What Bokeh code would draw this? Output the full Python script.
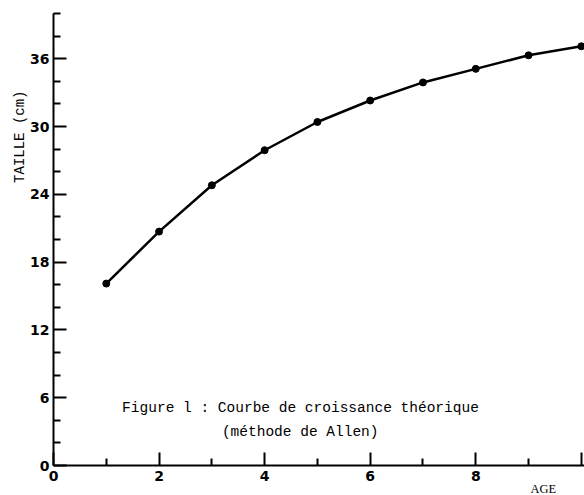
from bokeh.plotting import figure
from bokeh.models import FixedTicker, Label, Range1d, Title
from bokeh.embed import file_html
from bokeh.resources import INLINE

age = [1, 2, 3, 4, 5, 6, 7, 8, 9, 10]
taille = [16.1, 20.7, 24.8, 27.9, 30.4, 32.3, 33.9, 35.1, 36.3, 37.1]

x_ticks = [0, 2, 4, 6, 8, 10]
x_minor = [1, 3, 5, 7, 9]
y_ticks = [0, 6, 12, 18, 24, 30, 36]
y_minor = [2, 4, 8, 10, 14, 16, 20, 22, 26, 28, 32, 34, 38, 40]

p = figure(width=584, height=495, output_backend="svg", toolbar_location=None,
           x_range=Range1d(0, 10.06), y_range=Range1d(0, 40),
           min_border_left=53, min_border_right=0, min_border_top=13, min_border_bottom=30)
p.outline_line_color = None
p.xgrid.visible = False
p.ygrid.visible = False
p.background_fill_color = "white"
p.border_fill_color = "white"

p.line(age, taille, line_color="black", line_width=2.5)
p.scatter(age, taille, size=7, color="black")

for ax in (p.xaxis[0], p.yaxis[0]):
    ax.axis_line_width = 2
    ax.axis_line_color = "black"
    ax.major_tick_line_width = 2
    ax.minor_tick_line_width = 2
    ax.major_tick_line_color = "black"
    ax.minor_tick_line_color = "black"
    ax.major_tick_in = 13
    ax.major_tick_out = 0
    ax.minor_tick_in = 7
    ax.minor_tick_out = 0
    ax.major_label_text_font = "DejaVu Sans"
    ax.major_label_text_font_style = "bold"
    ax.major_label_text_font_size = "14px"
    ax.major_label_text_color = "black"

p.xaxis[0].ticker = FixedTicker(ticks=x_ticks, minor_ticks=x_minor)
p.xaxis[0].major_label_overrides = {10: ""}
p.xaxis[0].major_label_standoff = 5
p.yaxis[0].ticker = FixedTicker(ticks=y_ticks, minor_ticks=y_minor)
p.yaxis[0].major_label_standoff = 4

p.add_layout(Title(text="TAILLE (cm)", align="right", offset=77, standoff=0,
                   text_font="Liberation Mono", text_font_size="14px",
                   text_font_style="normal", text_color="#000000"), "left")
p.add_layout(Title(text="AGE", align="left", offset=477, standoff=-8,
                   text_font="Liberation Serif", text_font_size="12.5px",
                   text_font_style="normal", text_color="#000000"), "below")

p.add_layout(Label(x=1.30, y=5.13, text="Figure l : Courbe de croissance théorique",
                   text_font="Liberation Mono", text_font_size="14.5px",
                   text_align="left", text_baseline="middle", text_color="black"))
p.add_layout(Label(x=3.19, y=3.0, text="(méthode de Allen)",
                   text_font="Liberation Mono", text_font_size="14.5px",
                   text_align="left", text_baseline="middle", text_color="black"))

open("out.html", "w").write(file_html(p, INLINE))
